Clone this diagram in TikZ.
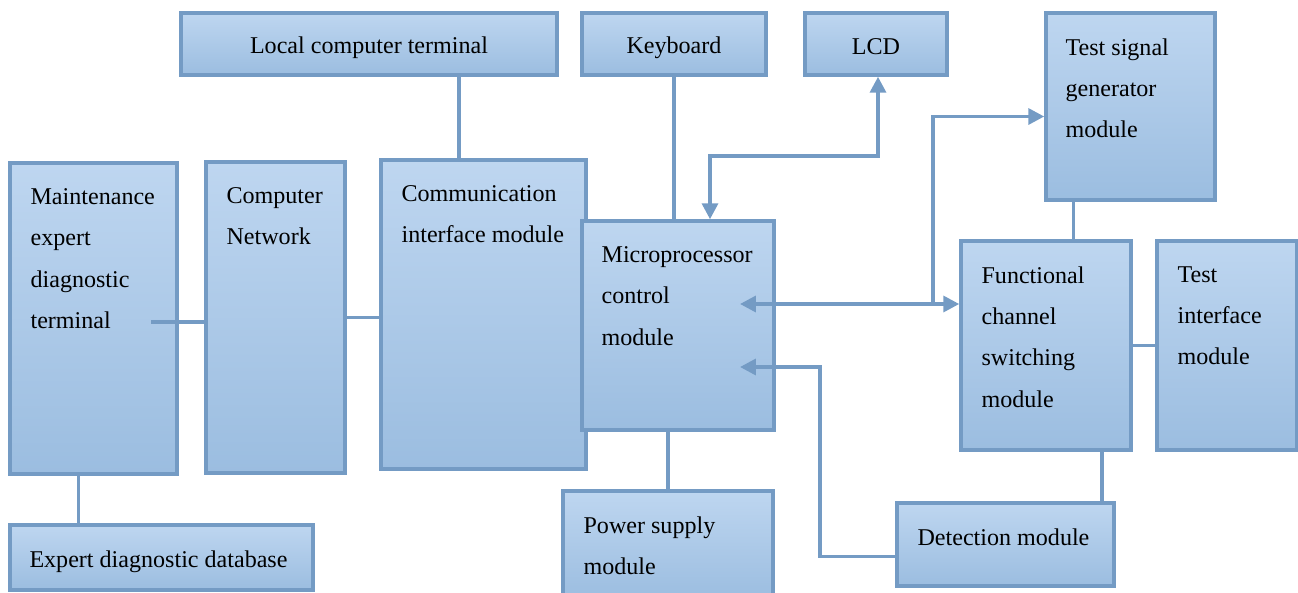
\documentclass[tikz,border=0pt]{standalone}
\usepackage{fontspec}
\setmainfont{Liberation Serif}
\usetikzlibrary{arrows.meta,fit,calc}
\definecolor{blkTop}{RGB}{190,214,240}
\definecolor{blkBot}{RGB}{155,189,224}
\definecolor{blkLine}{RGB}{116,155,196}

\begin{document}
\begin{tikzpicture}[x=0.02cm,y=-0.02cm]
    \tikzstyle{blk} = [draw=blkLine, line width=2pt, top color=blkTop, bottom color=blkBot, inner sep=0pt]
    \tikzstyle{txt} = [anchor=north west, inner sep=0pt, align=left, font=\fontsize{13.7}{23.5}\selectfont]
    \tikzstyle{onetxt} = [inner sep=0pt, font=\fontsize{13.7}{23.5}\selectfont]
    \tikzstyle{wire} = [blkLine, line width=2pt]
    \tikzstyle{rwire} = [wire, -{Triangle[length=9pt,width=9pt]}]
    \tikzstyle{dwire} = [wire, {Triangle[length=9pt,width=9pt]}-{Triangle[length=9pt,width=9pt]}]
    \useasboundingbox (0,0) rectangle (1298,592);

    % top row
    \node[blk, fit={(181,13) (557,75)}] (lct) {};
    \node[onetxt] (lctT) at ($(lct)+(0,4)$) {Local computer terminal};
    \node[blk, fit={(582,13) (766,75)}] (kbd) {};
    \node[onetxt] (kbdT) at ($(kbd)+(0,4)$) {Keyboard};
    \node[blk, fit={(805,13) (947,75)}] (lcd) {};
    \node[onetxt] (lcdT) at ($(lcd)+(0,3)$) {LCD};
    \node[blk, fit={(1046,13) (1215,200)}] (tsg) {};
    \node[txt] (tsgT) at ($(tsg.north west)+(21,27)$) {Test signal\\generator\\module};

    % middle row
    \node[blk, fit={(10,163) (177,474)}] (mnt) {};
    \node[txt] (mntT) at ($(mnt.north west)+(22,27)$) {Maintenance\\expert\\diagnostic\\terminal};
    \node[blk, fit={(206,162) (345,473)}] (net) {};
    \node[txt] (netT) at ($(net.north west)+(22,27)$) {Computer\\Network};
    \node[blk, fit={(381,160) (586,469)}] (com) {};
    \node[txt] (comT) at ($(com.north west)+(22,27)$) {Communication\\interface module};
    \node[blk, fit={(582,221) (774,430)}] (mpu) {};
    \node[txt] (mpuT) at ($(mpu.north west)+(21,27)$) {Microprocessor\\control\\module};
    \node[blk, fit={(961,241) (1131,450)}] (fcs) {};
    \node[txt] (fcsT) at ($(fcs.north west)+(22,27)$) {Functional\\channel\\switching\\module};
    \node[blk, fit={(1157,241) (1297,450)}] (tim) {};
    \node[txt] (timT) at ($(tim.north west)+(22,27)$) {Test\\interface\\module};

    % bottom row
    \node[blk, fit={(10,525) (313,590)}] (edb) {};
    \node[onetxt] (edbT) at ($(edb)+(-3,4)$) {Expert diagnostic database};
    \node[blk, fit={(563,491) (773,600)}] (psm) {};
    \node[txt] (psmT) at ($(psm.north west)+(22,27)$) {Power supply\\module};
    \node[blk, fit={(897,503) (1114,586)}] (det) {};
    \node[txt] (detT) at ($(det.north west)+(22,27)$) {Detection module};

    % connectors
    \coordinate (mntP) at (151,322);
    \coordinate (lctP) at ($(lct.south)+(90,0)$);
    \coordinate (mpuN) at ($(mpu.north)+(32,0)$);
    \coordinate (mpuA) at (740,304);
    \coordinate (mpuB) at (740,367);
    \coordinate (brA) at (933,304);
    \coordinate (mpuS) at ($(mpu.south)+(-10,0)$);
    \coordinate (mntS) at ($(mnt.south)+(-15,0)$);
    \coordinate (tsgS) at ($(tsg.south)+(-57,0)$);
    \coordinate (fcsS) at ($(fcs.south)+(56,0)$);

    \draw[wire] (mntP) -- (mntP -| net.west);
    \draw[wire] (net.east) -- (net.east -| com.west);
    \draw[wire] (lctP) -- (lctP |- com.north);
    \draw[wire] (kbd.south) -- (kbd.south |- mpu.north);
    \draw[dwire] (mpuN) -- ++(0,-63) -| ($(lcd.south)+(2,0)$);
    \draw[dwire] (mpuA) -- (mpuA -| fcs.west);
    \draw[rwire] (brA) |- ($(tsg.west)+(0,10)$);
    \draw[rwire] ($(det.west)+(0,12)$) -- ++(-75,0) |- (mpuB);
    \draw[wire] (mpuS) -- (mpuS |- psm.north);
    \draw[wire] (mntS) -- (mntS |- edb.north);
    \draw[wire] (tsgS) -- (tsgS |- fcs.north);
    \draw[wire] (fcs.east) -- (fcs.east -| tim.west);
    \draw[wire] (fcsS) -- (fcsS |- det.north);
\end{tikzpicture}
\end{document}
